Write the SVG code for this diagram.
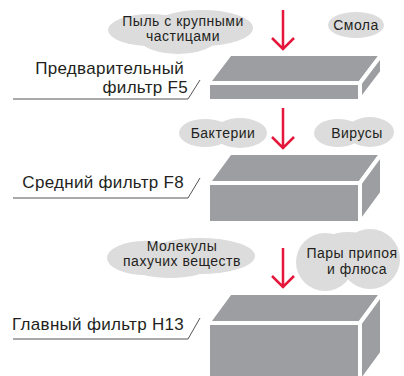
<svg xmlns="http://www.w3.org/2000/svg" width="404" height="376" viewBox="0 0 404 376">
<style>
.cloud{fill:#dcdcdc}
.ct{font-family:"Liberation Sans",Arial,sans-serif;font-size:14px;letter-spacing:0.5px;fill:#231f20;text-anchor:middle}
.lt{font-family:"Liberation Sans",Arial,sans-serif;font-size:17px;letter-spacing:0.3px;fill:#231f20;text-anchor:end}
.face{fill:#9d9ea1;stroke:#fff;stroke-width:4;stroke-linejoin:miter}
.ul{fill:none;stroke:#555;stroke-width:1}
.arr{fill:none;stroke:#e5173a;stroke-width:2.5}
</style>
<rect width="404" height="376" fill="#fff"/>
<g id="connectors">
<path class="arr" d="M283 10V50M272 38L283 49L294 38"/>
<path class="arr" d="M283 108V149M272 137L283 148L294 137"/>
<path class="arr" d="M283 248V288M272 276L283 287L294 276"/>
</g>
<g id="cloud-dust">
<ellipse class="cloud" cx="150" cy="30" rx="42" ry="16"/>
<ellipse class="cloud" cx="202" cy="28" rx="51" ry="18"/>
<ellipse class="cloud" cx="178" cy="39" rx="38" ry="15"/>
<text class="ct" x="183" y="26">Пыль с крупными</text>
<text class="ct" x="183" y="41">частицами</text>
</g>
<g id="cloud-resin">
<ellipse class="cloud" cx="356" cy="25" rx="28" ry="13"/>
<text class="ct" x="356" y="30">Смола</text>
</g>
<g id="cloud-bacteria">
<ellipse class="cloud" cx="205" cy="133" rx="26" ry="14"/>
<ellipse class="cloud" cx="240" cy="133" rx="27" ry="15"/>
<text class="ct" x="223" y="138">Бактерии</text>
</g>
<g id="cloud-viruses">
<ellipse class="cloud" cx="338" cy="133" rx="24" ry="14"/>
<ellipse class="cloud" cx="370" cy="132" rx="24" ry="15"/>
<text class="ct" x="357" y="138">Вирусы</text>
</g>
<g id="cloud-odor">
<ellipse class="cloud" cx="145" cy="258" rx="38" ry="17"/>
<ellipse class="cloud" cx="200" cy="256" rx="55" ry="18"/>
<ellipse class="cloud" cx="170" cy="266" rx="40" ry="12"/>
<text class="ct" x="182" y="251">Молекулы</text>
<text class="ct" x="182" y="266">пахучих веществ</text>
</g>
<g id="cloud-solder">
<circle class="cloud" cx="325" cy="262" r="29"/>
<circle class="cloud" cx="370" cy="259" r="30"/>
<ellipse class="cloud" cx="348" cy="250" rx="30" ry="18"/>
<text class="ct" x="352" y="258">Пары припоя</text>
<text class="ct" x="357" y="274">и флюса</text>
</g>
<g id="filter-f5">
<rect class="face" x="208" y="83" width="152" height="18"/>
<polygon class="face" points="208,83 360,83 382,54 230,54"/>
<polygon class="face" points="360,83 382,54 382,72 360,101"/>
<text class="lt" x="184" y="74">Предварительный</text>
<text class="lt" x="188" y="93">фильтр F5</text>
<path class="ul" d="M13 99H188L200 80"/>
</g>
<g id="filter-f8">
<rect class="face" x="208" y="183" width="152" height="40"/>
<polygon class="face" points="208,183 360,183 382,153 230,153"/>
<polygon class="face" points="360,183 382,153 382,193 360,223"/>
<text class="lt" x="184" y="188">Средний фильтр F8</text>
<path class="ul" d="M13 198H188L200 178"/>
</g>
<g id="filter-h13">
<rect class="face" x="208" y="323" width="152" height="60"/>
<polygon class="face" points="208,323 360,323 382,293 230,293"/>
<polygon class="face" points="360,323 382,293 382,353 360,383"/>
<text class="lt" x="184" y="330">Главный фильтр H13</text>
<path class="ul" d="M13 339H188L200 318"/>
</g>
</svg>
